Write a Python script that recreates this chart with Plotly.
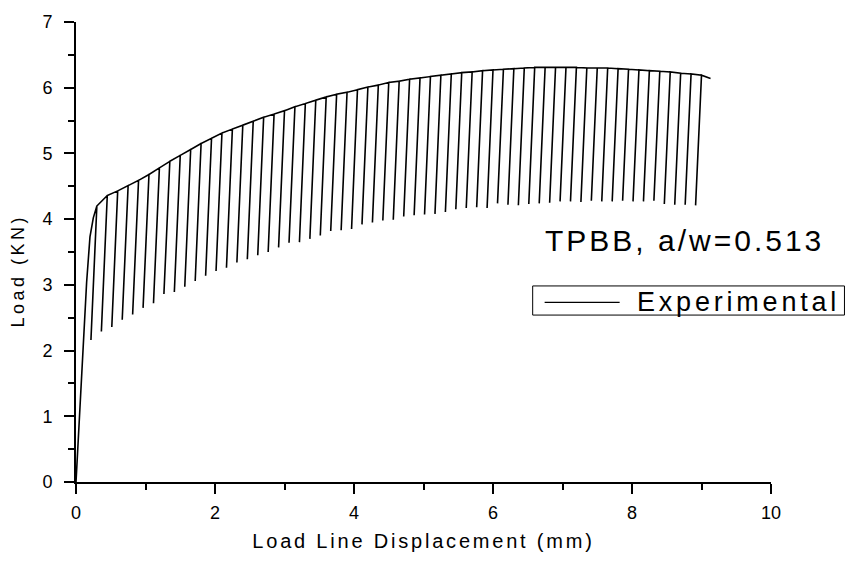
import plotly.graph_objects as go

# ---------------- data ----------------
# initial loading branch before the first unloading cycle
initial_disp = [0.0, 0.02, 0.058, 0.105, 0.153, 0.201, 0.249]
initial_load = [0.0, 0.40, 0.99, 2.05, 3.04, 3.73, 4.02]

# peak (start of unloading) of each cycle
peak_disp = [0.30, 0.45, 0.60, 0.75, 0.90, 1.05, 1.20, 1.35, 1.50, 1.65,
             1.80, 1.95, 2.10, 2.25, 2.40, 2.55, 2.70, 2.85, 3.00, 3.15,
             3.30, 3.45, 3.60, 3.75, 3.90, 4.05, 4.20, 4.35, 4.50, 4.65,
             4.80, 4.95, 5.10, 5.25, 5.40, 5.55, 5.70, 5.85, 6.00, 6.15,
             6.30, 6.45, 6.60, 6.75, 6.90, 7.05, 7.20, 7.35, 7.50, 7.65,
             7.80, 7.95, 8.10, 8.25, 8.40, 8.55, 8.70, 8.85, 9.00]
peak_load = [4.20, 4.36, 4.43, 4.51, 4.59, 4.68, 4.78, 4.88, 4.97, 5.06,
             5.15, 5.23, 5.31, 5.37, 5.43, 5.49, 5.55, 5.60, 5.65, 5.71,
             5.76, 5.81, 5.86, 5.90, 5.93, 5.97, 6.01, 6.04, 6.08, 6.10,
             6.13, 6.15, 6.17, 6.19, 6.21, 6.23, 6.24, 6.26, 6.27, 6.28,
             6.29, 6.30, 6.31, 6.31, 6.31, 6.31, 6.31, 6.30, 6.30, 6.30,
             6.29, 6.28, 6.27, 6.26, 6.25, 6.24, 6.22, 6.21, 6.19]

# valley (end of unloading) of each cycle
valley_disp = [0.215, 0.365, 0.515, 0.665, 0.815, 0.965, 1.115, 1.265, 1.415, 1.565,
               1.715, 1.865, 2.015, 2.165, 2.315, 2.465, 2.615, 2.765, 2.915, 3.065,
               3.215, 3.365, 3.515, 3.665, 3.815, 3.965, 4.115, 4.265, 4.415, 4.565,
               4.715, 4.865, 5.015, 5.165, 5.315, 5.465, 5.615, 5.765, 5.915, 6.065,
               6.215, 6.365, 6.515, 6.665, 6.815, 6.965, 7.115, 7.265, 7.415, 7.565,
               7.715, 7.865, 8.015, 8.165, 8.315, 8.465, 8.615, 8.765, 8.915]
valley_load = [2.16, 2.29, 2.36, 2.47, 2.55, 2.65, 2.72, 2.86, 2.89, 2.97,
               3.06, 3.14, 3.21, 3.26, 3.34, 3.39, 3.45, 3.50, 3.57, 3.64,
               3.65, 3.70, 3.75, 3.82, 3.83, 3.85, 3.92, 3.95, 3.98, 3.99,
               4.04, 4.06, 4.07, 4.08, 4.11, 4.15, 4.17, 4.18, 4.17, 4.24,
               4.22, 4.21, 4.23, 4.24, 4.25, 4.27, 4.27, 4.26, 4.28, 4.27,
               4.27, 4.28, 4.27, 4.27, 4.28, 4.23, 4.22, 4.22, 4.21]

# final part after the last cycle
tail_disp = [9.13]
tail_load = [6.14]

x_ticks = [0, 2, 4, 6, 8, 10]
y_ticks = [0, 1, 2, 3, 4, 5, 6, 7]

series_name = "Experimental"
note_text = "TPBB, a/w=0.513"
x_title = "Load Line Displacement (mm)"
y_title = "Load (KN)"

# ---------------- build the load path ----------------
xs = list(initial_disp)
ys = list(initial_load)
for pd_, pl, vd, vl in zip(peak_disp, peak_load, valley_disp, valley_load):
    xs += [pd_, vd, pd_]
    ys += [pl, vl, pl]
xs += tail_disp
ys += tail_load


def spaced(text, px):
    return f"<span style='letter-spacing:{px}px'>{text}</span>"


FONT = "Liberation Sans, Arial"
tick_font = dict(family="Liberation Sans Narrow, Arial Narrow, Liberation Sans, Arial", size=18, color="black")

fig = go.Figure()
fig.add_trace(go.Scatter(
    x=xs, y=ys, mode="lines", name=series_name,
    line=dict(color="black", width=1.6), showlegend=False,
))

# legend box drawn in paper coordinates (box, sample line, label)
legend_shapes = [
    dict(type="rect", xref="paper", yref="paper", x0=0.6571, x1=1.1057, y0=0.3629, y1=0.4262,
         line=dict(color="black", width=1), fillcolor="white", layer="above"),
    dict(type="line", xref="paper", yref="paper", x0=0.6743, x1=0.7822, y0=0.3903, y1=0.3903,
         line=dict(color="black", width=1.2), layer="above"),
]

fig.update_layout(
    width=848, height=561,
    margin=dict(l=76, r=77, t=15, b=72),
    paper_bgcolor="white", plot_bgcolor="white",
    font=dict(family=FONT, color="black"),
    showlegend=False,
    xaxis=dict(
        range=[0, 10], tickvals=x_ticks, ticktext=[str(v) for v in x_ticks],
        showgrid=False, zeroline=False, showline=True, linecolor="black", linewidth=2,
        ticks="outside", ticklen=10, tickwidth=1.5, tickcolor="black",
        minor=dict(dtick=1, ticks="outside", ticklen=6, tickwidth=1.5, tickcolor="black", showgrid=False),
        tickfont=tick_font, ticklabelstandoff=3,
        title=dict(text=spaced(x_title, 2.8), font=dict(family=FONT, size=20, color="black"), standoff=12),
    ),
    yaxis=dict(
        range=[0, 7], tickvals=y_ticks, ticktext=[str(v) for v in y_ticks],
        showgrid=False, zeroline=False, showline=True, linecolor="black", linewidth=2,
        ticks="outside", ticklen=10, tickwidth=1.5, tickcolor="black",
        minor=dict(dtick=0.5, ticks="outside", ticklen=6, tickwidth=1.5, tickcolor="black", showgrid=False),
        tickfont=tick_font, ticklabelstandoff=8,
    ),
    shapes=legend_shapes,
    annotations=[
        dict(text=spaced(note_text, 3), xref="paper", yref="paper", x=0.8756, y=0.525,
             xanchor="center", yanchor="middle", showarrow=False,
             font=dict(family=FONT, size=30, color="black")),
        dict(text=spaced(series_name, 3.8), xref="paper", yref="paper", x=0.8037, y=0.392,
             xanchor="left", yanchor="middle", showarrow=False,
             font=dict(family=FONT, size=27, color="black")),
        dict(text=spaced(y_title, 3.5), xref="paper", yref="paper", x=-0.0834, y=0.46,
             xanchor="center", yanchor="middle", textangle=-90, showarrow=False,
             font=dict(family=FONT, size=18, color="black")),
    ],
)

fig.write_html("out.html")
